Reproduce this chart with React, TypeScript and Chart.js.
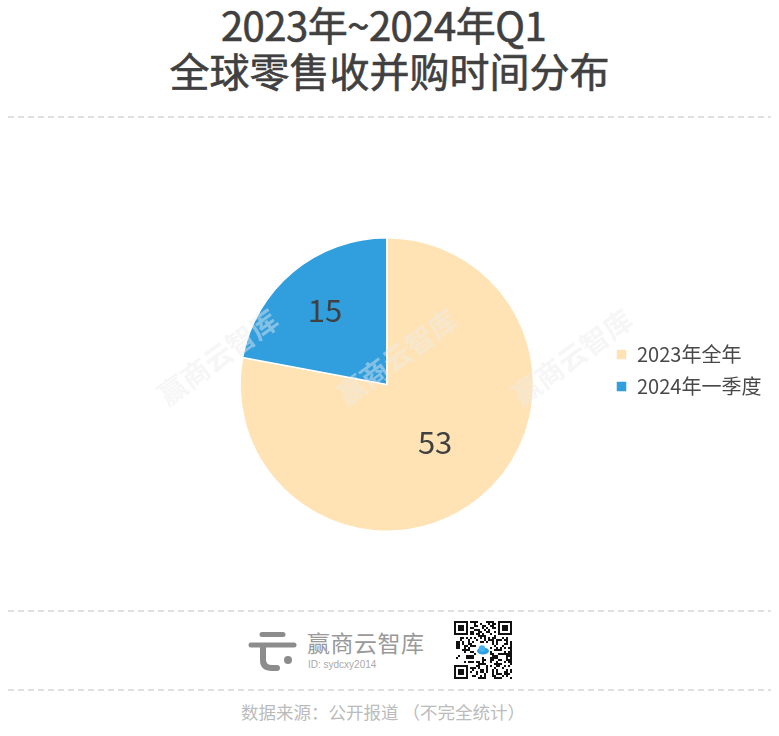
import React, { useEffect, useRef } from 'react';
import { Chart, registerables } from 'chart.js';

Chart.register(...registerables);

const categories = ['2023年全年', '2024年一季度'];
const values = [53, 15];
const sliceColors = ['#FFE3B5', '#319FDE'];
const titleLines = ['2023年~2024年Q1', '全球零售收并购时间分布'];
const sourceNote = '数据来源：公开报道 （不完全统计）';
const brandName = '赢商云智库';
const brandId = 'ID: sydcxy2014';
const watermarkText = '赢商云智库';

const FONT = '"Noto Sans CJK SC", "Noto Sans", sans-serif';
const labelRadius = [0.515, 0.66];
const watermarkPos = [
  [218, 227],
  [397, 227],
  [572, 227],
];
const titleShift = [-6, 0];
const titleSpacing = [-0.5, 0];

const sliceLabelPlugin = {
  id: 'sliceLabels',
  afterDatasetsDraw(chart: any) {
    const meta = chart.getDatasetMeta(0);
    const ctx = chart.ctx;
    ctx.save();
    ctx.font = `31px ${FONT}`;
    ctx.fillStyle = '#404040';
    ctx.textAlign = 'center';
    ctx.textBaseline = 'middle';
    meta.data.forEach((arc: any, i: number) => {
      const p = arc.getProps(['x', 'y', 'startAngle', 'endAngle', 'outerRadius'], true);
      const mid = (p.startAngle + p.endAngle) / 2;
      const r = p.outerRadius * labelRadius[i];
      ctx.fillText(String(values[i]), p.x + Math.cos(mid) * r, p.y + Math.sin(mid) * r);
    });
    ctx.restore();
  },
  afterDraw(chart: any) {
    const ctx = chart.ctx;
    ctx.save();
    ctx.font = `bold 28px ${FONT}`;
    ctx.fillStyle = 'rgba(236,236,236,0.45)';
    ctx.textAlign = 'center';
    ctx.textBaseline = 'middle';
    watermarkPos.forEach(([x, y]) => {
      ctx.save();
      ctx.translate(x, y);
      ctx.rotate(-Math.PI / 5);
      ctx.fillText(watermarkText, 0, 0);
      ctx.restore();
    });
    ctx.restore();
  },
};

const legendShiftPlugin = {
  id: 'legendShift',
  afterLayout(chart: any) {
    const lg = chart.legend;
    if (!lg) return;
    const pad = lg.options.labels.padding;
    const dx = 616 - pad - lg.left;
    lg.left += dx;
    lg.right += dx;
    lg.top -= 14;
    lg.bottom -= 14;
  },
};

function DashLine({ top }: { top: number }) {
  return (
    <svg
      width={779}
      height={4}
      style={{ position: 'absolute', left: 0, top: top - 2 }}
    >
      <line x1={8} y1={2} x2={771} y2={2} stroke="#d6d6d6" strokeWidth={1.6} strokeDasharray="6 4" />
    </svg>
  );
}

function QrMark() {
  const n = 29;
  const cells: React.ReactNode[] = [];
  const inFinder = (x: number, y: number) =>
    (x < 8 && y < 8) || (x >= n - 8 && y < 8) || (x < 8 && y >= n - 8);
  for (let y = 0; y < n; y++) {
    for (let x = 0; x < n; x++) {
      if (inFinder(x, y)) continue;
      if (x >= 11 && x <= 17 && y >= 11 && y <= 17) continue;
      const v = (x * 7 + y * 13 + x * y * 3 + ((x ^ y) & 5)) % 7;
      if (v < 3) cells.push(<rect key={`${x}-${y}`} x={x * 2} y={y * 2} width={2} height={2} fill="#111" />);
    }
  }
  const finder = (fx: number, fy: number) => (
    <g key={`f${fx}-${fy}`}>
      <rect x={fx * 2} y={fy * 2} width={14} height={14} fill="#111" />
      <rect x={fx * 2 + 2} y={fy * 2 + 2} width={10} height={10} fill="#fff" />
      <rect x={fx * 2 + 4} y={fy * 2 + 4} width={6} height={6} fill="#111" />
    </g>
  );
  return (
    <svg width={58} height={58} style={{ position: 'absolute', left: 454, top: 621 }}>
      <rect x={0} y={0} width={58} height={58} fill="#fff" />
      {cells}
      {finder(0, 0)}
      {finder(n - 7, 0)}
      {finder(0, n - 7)}
      <rect x={22} y={22} width={14} height={14} rx={2} fill="#fff" />
      <ellipse cx={29} cy={30} rx={6} ry={3.5} fill="#2F9FE0" />
      <circle cx={28} cy={27.5} r={3.2} fill="#45B4EE" />
    </svg>
  );
}

function Logo() {
  const ox = 245;
  const oy = 625;
  return (
    <svg width={56} height={50} style={{ position: 'absolute', left: ox, top: oy }}>
      <g stroke="#8c8c8c" strokeLinecap="round" fill="none">
        <line x1={262 - ox} y1={634.5 - oy} x2={283 - ox} y2={634.5 - oy} strokeWidth={5} />
        <line x1={251 - ox} y1={645 - oy} x2={294 - ox} y2={645 - oy} strokeWidth={5} />
        <path
          d={`M ${263 - ox} ${646 - oy} L ${263 - ox} ${660 - oy} Q ${263 - ox} ${668 - oy} ${272 - ox} ${668 - oy} L ${277 - ox} ${668 - oy}`}
          strokeWidth={6}
        />
      </g>
      <circle cx={288 - ox} cy={660 - oy} r={4} fill="#8c8c8c" />
    </svg>
  );
}

export default function App() {
  const canvasRef = useRef<HTMLCanvasElement | null>(null);

  useEffect(() => {
    if (!canvasRef.current) return;
    const chart = new Chart(canvasRef.current, {
      type: 'pie',
      data: {
        labels: categories,
        datasets: [
          {
            data: values,
            backgroundColor: sliceColors,
            borderColor: '#ffffff',
            borderWidth: 1.5,
          },
        ],
      },
      options: {
        responsive: false,
        animation: false,
        layout: { padding: { left: 178, right: 16, top: 107, bottom: 68 } },
        plugins: {
          legend: {
            position: 'right',
            labels: {
              boxWidth: 11,
              boxHeight: 11,
              padding: 12,
              color: '#484848',
              font: { size: 20, family: FONT },
            },
          },
          tooltip: { enabled: false },
        },
      },
      plugins: [sliceLabelPlugin, legendShiftPlugin],
    });
    return () => chart.destroy();
  }, []);

  return (
    <div
      style={{
        position: 'absolute',
        left: 0,
        top: 0,
        width: 779,
        height: 736,
        background: '#ffffff',
        fontFamily: FONT,
        overflow: 'hidden',
      }}
    >
      {titleLines.map((t, i) => (
        <div
          key={i}
          style={{
            position: 'absolute',
            left: titleShift[i],
            width: 779,
            top: 0 + i * 46,
            height: 48,
            lineHeight: '48px',
            textAlign: 'center',
            fontSize: 40,
            fontWeight: 400,
            letterSpacing: titleSpacing[i],
            WebkitTextStroke: '0.6px #404040',
            color: '#404040',
            whiteSpace: 'nowrap',
          }}
        >
          {t}
        </div>
      ))}
      <DashLine top={117} />
      <canvas
        ref={canvasRef}
        width={779}
        height={470}
        style={{ position: 'absolute', left: 0, top: 130, width: 779, height: 470 }}
      />
      <DashLine top={611} />
      <Logo />
      <div
        style={{
          position: 'absolute',
          left: 307,
          top: 628,
          fontSize: 23,
          lineHeight: '28px',
          color: '#999999',
          letterSpacing: 0.5,
          whiteSpace: 'nowrap',
        }}
      >
        {brandName}
      </div>
      <div
        style={{
          position: 'absolute',
          left: 308,
          top: 658,
          fontSize: 10,
          lineHeight: '14px',
          color: '#aaaaaa',
          fontFamily: '"Liberation Sans", Arial, sans-serif',
          whiteSpace: 'nowrap',
        }}
      >
        {brandId}
      </div>
      <QrMark />
      <DashLine top={690} />
      <div
        style={{
          position: 'absolute',
          left: 0,
          width: 766,
          top: 700,
          lineHeight: '24px',
          textAlign: 'center',
          fontSize: 17.5,
          color: '#bbbbbb',
          whiteSpace: 'nowrap',
        }}
      >
        {sourceNote}
      </div>
    </div>
  );
}
